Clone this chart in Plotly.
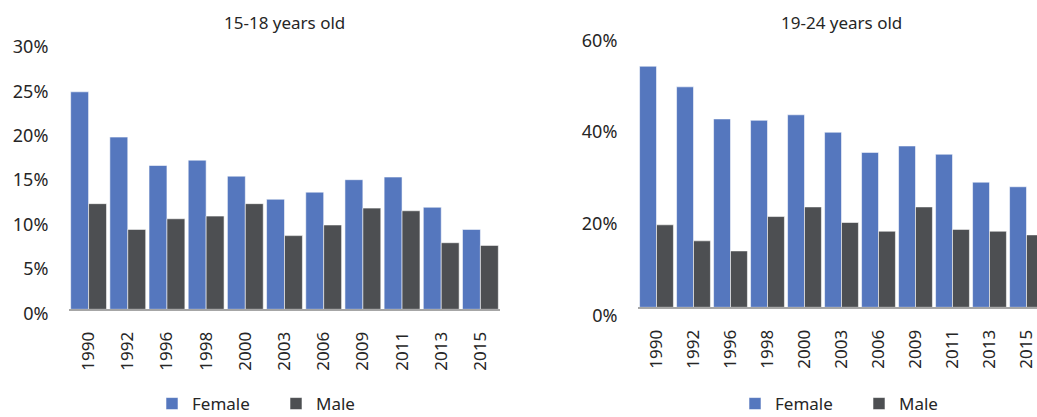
import plotly.graph_objects as go

years = ["1990", "1992", "1996", "1998", "2000", "2003", "2006", "2009", "2011", "2013", "2015"]

teen_female = [0.245, 0.194, 0.162, 0.168, 0.150, 0.124, 0.132, 0.146, 0.149, 0.115, 0.090]
teen_male = [0.119, 0.090, 0.102, 0.105, 0.119, 0.083, 0.095, 0.114, 0.111, 0.075, 0.072]

young_female = [0.526, 0.481, 0.411, 0.408, 0.420, 0.382, 0.338, 0.352, 0.334, 0.273, 0.263]
young_male = [0.180, 0.145, 0.123, 0.198, 0.219, 0.185, 0.166, 0.219, 0.170, 0.166, 0.158]

titles = ["15-18 years old", "19-24 years old"]
series_names = ["Female", "Male"]

W, H = 1037, 417
FEMALE = "#5577BE"
MALE = "#4D4F52"
TXT = "#262626"
FONT = "Noto Sans"

fig = go.Figure()

def add(x, y, name, color, xa, ya, legend):
    fig.add_trace(go.Bar(
        x=x, y=y, name=name, xaxis=xa, yaxis=ya, legend=legend,
        marker=dict(color=color, line=dict(color="rgba(255,255,255,0.7)", width=0.8)),
        hoverinfo="x+y",
    ))

add(years, teen_female, series_names[0], FEMALE, "x", "y", "legend")
add(years, teen_male, series_names[1], MALE, "x", "y", "legend")
add(years, young_female, series_names[0], FEMALE, "x2", "y2", "legend2")
add(years, young_male, series_names[1], MALE, "x2", "y2", "legend2")

# pixel geometry
L1, R1 = 69, 500
L2, R2 = 638, 1037
cat2 = 37.0
top1, bot1 = 43, 309.3
top2, bot2 = 32.3, 307.3

xaxis_common = dict(
    type="category", tickangle=-90, showline=True, linecolor="#A6A6A6", linewidth=1.5,
    ticks="outside", ticklen=14, tickcolor="rgba(0,0,0,0)", automargin=False,
    tickfont=dict(family=FONT, size=17, color=TXT), showgrid=False, zeroline=False,
    fixedrange=True,
)
yaxis_common = dict(
    tickformat=".0%", showgrid=False, zeroline=False, showline=False,
    ticks="outside", ticklen=16, tickcolor="rgba(0,0,0,0)", automargin=False,
    tickfont=dict(family=FONT, size=18, color=TXT), fixedrange=True,
)

legend_common = dict(
    orientation="h", xanchor="left", yanchor="middle", y=(H - 404) / H,
    font=dict(family=FONT, size=17, color=TXT), entrywidth=79, entrywidthmode="pixels",
    bgcolor="rgba(0,0,0,0)", borderwidth=0,
)

fig.update_layout(
    width=W, height=H,
    margin=dict(l=0, r=0, t=0, b=0, autoexpand=False),
    paper_bgcolor="white", plot_bgcolor="white",
    barmode="group", bargap=0.085, bargroupgap=0,
    font=dict(family=FONT, color=TXT),
    xaxis=dict(xaxis_common, domain=[L1 / W, R1 / W], anchor="y", range=[-0.5, 10.5]),
    xaxis2=dict(xaxis_common, domain=[L2 / W, R2 / W], anchor="y2",
                range=[-0.5, -0.5 + (R2 - L2) / cat2]),
    yaxis=dict(yaxis_common, domain=[(H - bot1) / H, (H - top1) / H], anchor="x",
               range=[0, 0.30], dtick=0.05, ticklabelshift=4),
    yaxis2=dict(yaxis_common, domain=[(H - bot2) / H, (H - top2) / H], anchor="x2",
                range=[0, 0.60], dtick=0.20, ticklabelshift=8),
    legend=dict(legend_common, x=152 / W),
    legend2=dict(legend_common, x=735 / W),
    annotations=[
        dict(text=titles[0], x=(L1 + R1) / 2 / W, y=(H - 22) / H, xref="paper", yref="paper",
             showarrow=False, xanchor="center", yanchor="middle",
             font=dict(family=FONT, size=17, color=TXT)),
        dict(text=titles[1], x=(L2 + 1045) / 2 / W, y=(H - 22) / H, xref="paper", yref="paper",
             showarrow=False, xanchor="center", yanchor="middle",
             font=dict(family=FONT, size=17, color=TXT)),
    ],
)

fig.write_html("out.html", config={"displayModeBar": False},
               post_script="document.body.style.margin='0px';document.body.style.overflow='hidden';")
